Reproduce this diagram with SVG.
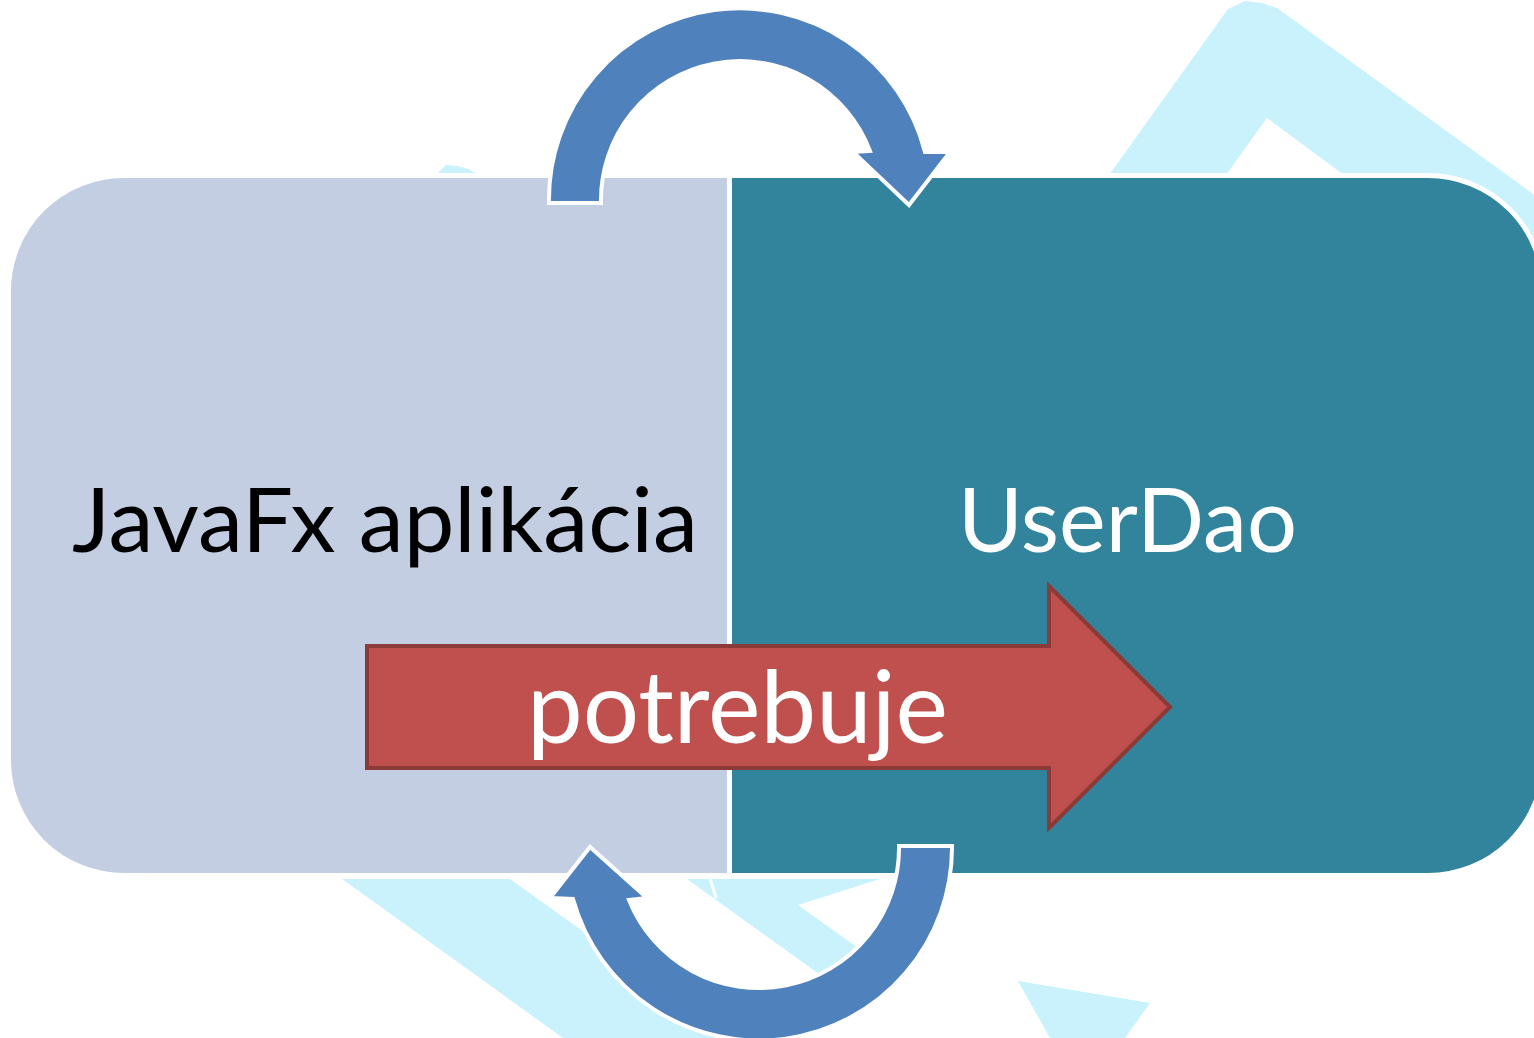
<svg xmlns="http://www.w3.org/2000/svg" width="1534" height="1038" viewBox="0 0 1534 1038">
  <style>
    .deco { fill: #C9F2FD; stroke: none; }
    .box { stroke: #FFFFFF; stroke-width: 5; }
    .cycle { fill: #4F81BD; stroke: #FFFFFF; stroke-width: 4; stroke-linejoin: miter; }
    .label { font-family: Lato, "Open Sans", sans-serif; text-anchor: middle; }
  </style>

  <!-- background decoration -->
  <g id="background">
    <rect x="0" y="0" width="1534" height="1038" fill="#FFFFFF"/>
    <polygon class="deco" points="1104,182 1228,9 1245,1 1262,3 1277,8 1540,199 1540,320 1267,118 1221,182"/>
    <polygon class="deco" points="437,174 446,165 458,166 468,169 478,174"/>
    <polygon class="deco" points="342,879 510,879 732,1038 563,1038"/>
    <polygon class="deco" points="687,879 880,879 798,905 872,958 826,979"/>
    <line x1="710" y1="878" x2="716" y2="898" stroke="#FFFFFF" stroke-width="3"/>
    <polygon class="deco" points="1018,981 1150,1003 1125,1038 1050,1038"/>
  </g>

  <!-- left node -->
  <g id="node-javafx">
    <path class="box" fill="#C3CEE2" d="M729.5,175.5 H124 A115.5,115.5 0 0 0 8.5,291 V760 A115.5,115.5 0 0 0 124,875.5 H729.5 Z"/>
    <text class="label" x="385" y="552" font-size="89" fill="#000000" textLength="626" lengthAdjust="spacingAndGlyphs">JavaFx aplikácia</text>
  </g>

  <!-- right node -->
  <g id="node-userdao">
    <path class="box" fill="#31849B" d="M729.5,175.5 H1428 A115.5,115.5 0 0 1 1543.5,291 V760 A115.5,115.5 0 0 1 1428,875.5 H729.5 Z"/>
    <text class="label" x="1127.5" y="552" font-size="89" fill="#FFFFFF" textLength="339" lengthAdjust="spacingAndGlyphs">UserDao</text>
  </g>

  <!-- connectors -->
  <g id="connectors">
    <!-- upper cycle arrow, left to right -->
    <path class="cycle" d="M549,203 A191,191 0 0 1 925,152 L950,152 L909,205 L853,152 L870,151 A139,139 0 0 0 601,203 Z"/>
    <!-- lower cycle arrow, right to left -->
    <path class="cycle" d="M952,846 A193,193 0 0 1 573,899 L550,898 L590,847 L647,898 L629,900 A140,140 0 0 0 899,846 Z"/>
    <!-- dependency arrow -->
    <polygon points="367,646 1049,646 1049,586 1170,707 1049,828 1049,768 367,768" fill="#C0504D" stroke="#8C3A38" stroke-width="4"/>
    <text class="label" x="737.5" y="743" font-size="100" fill="#FFFFFF" textLength="421" lengthAdjust="spacingAndGlyphs">potrebuje</text>
  </g>
</svg>
